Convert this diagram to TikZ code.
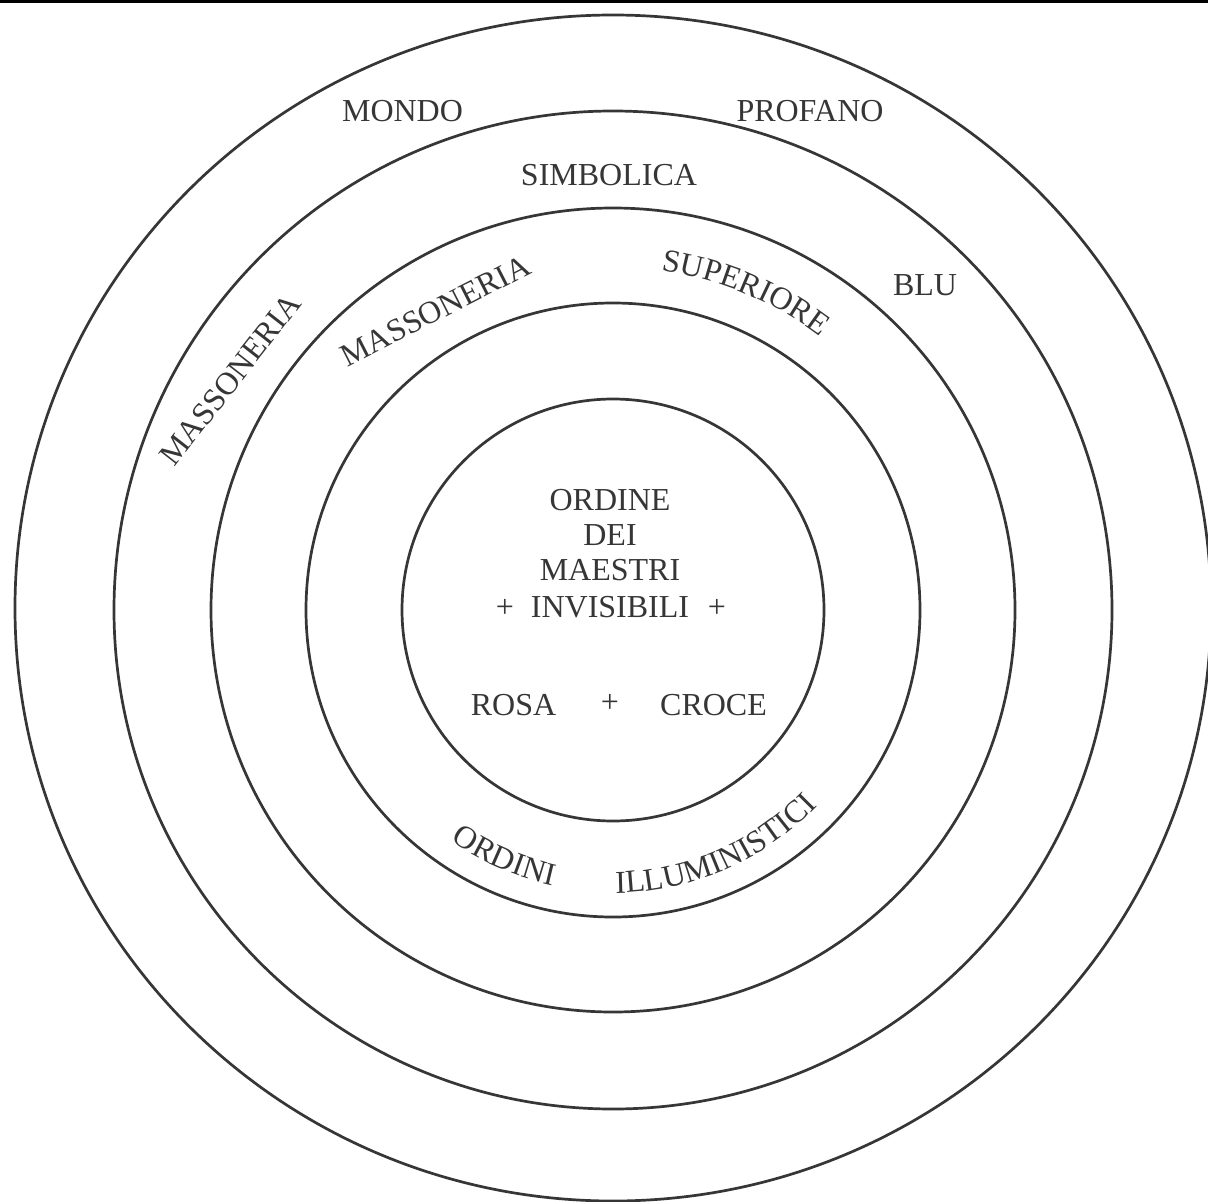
\documentclass[tikz,border=0pt]{standalone}
\usepackage{fontspec}
\setmainfont{Liberation Serif}
\usetikzlibrary{decorations.text,calc}
\definecolor{ink}{HTML}{363636}
\newcommand\lblfont{\fontsize{32}{38}\selectfont}
\begin{document}
\begin{tikzpicture}[x=1pt,y=1pt,
  ring/.style={draw=ink,line width=2.7pt},
  lbl/.style={text=ink,font=\lblfont,inner sep=0pt},
  arctext/.style={decorate,decoration={text along path,text={|\lblfont\color{ink}|#1},text align=center}}
  ]
\useasboundingbox (0,0) rectangle (1208,-1202);
\fill[white] (0,0) rectangle (1208,-1202);
\coordinate (C) at (613,-610);
\draw[line width=3pt,black] (0,-1.5) -- (1208,-1.5);
\begin{scope}
\clip (0,0) rectangle (1208,-1202);
\draw[ring] ($(C)+(0,2)$) ellipse[x radius=598, y radius=593];
\end{scope}
\draw[ring] (C) circle[radius=499];
\draw[ring] (C) circle[radius=402];
\draw[ring] (C) circle[radius=307];
\draw[ring] (C) circle[radius=211];

% outer ring
\node[lbl,anchor=base] (mondo) at (402.5,-121) {MONDO};
\node[lbl,anchor=base] (profano) at (810,-121) {PROFANO};
% ring 2
\node[lbl,anchor=base] (simbolica) at (609,-185) {SIMBOLICA};
\node[lbl,anchor=base] (blu) at (925,-295) {BLU};
\node[lbl,anchor=base,rotate=52] (mass1) at (238.5,-386) {MASSONERIA};
% ring 3
\node[lbl,anchor=base,rotate=27] (mass2) at (440,-320) {MASSONERIA};
\path[arctext=SUPERIORE] ($(C)+(88:343)$) arc[start angle=88,end angle=46.7,radius=343];
% ring 4
\path[arctext=ORDINI] ($(C)+(-130:282)$) arc[start angle=-130,end angle=-97.5,radius=282];
\path[arctext=ILLUMINISTICI] ($(C)+(-95:283)$) arc[start angle=-95,end angle=-38.2,radius=283];
% centre
\node[lbl,anchor=base] (ordine) at (610,-510) {ORDINE};
\node[lbl,anchor=base] (dei) at (610,-545) {DEI};
\node[lbl,anchor=base] (maestri) at (610,-580) {MAESTRI};
\node[lbl,anchor=base] (invis) at (610,-617) {INVISIBILI};
\node[lbl,anchor=base] (plusa) at (505,-617) {+};
\node[lbl,anchor=base] (plusb) at (717,-617) {+};
\node[lbl,anchor=base] (rosa) at (513.5,-715) {ROSA};
\node[lbl,anchor=base] (plusc) at (610,-712) {+};
\node[lbl,anchor=base] (croce) at (713.5,-715) {CROCE};
\end{tikzpicture}
\end{document}
